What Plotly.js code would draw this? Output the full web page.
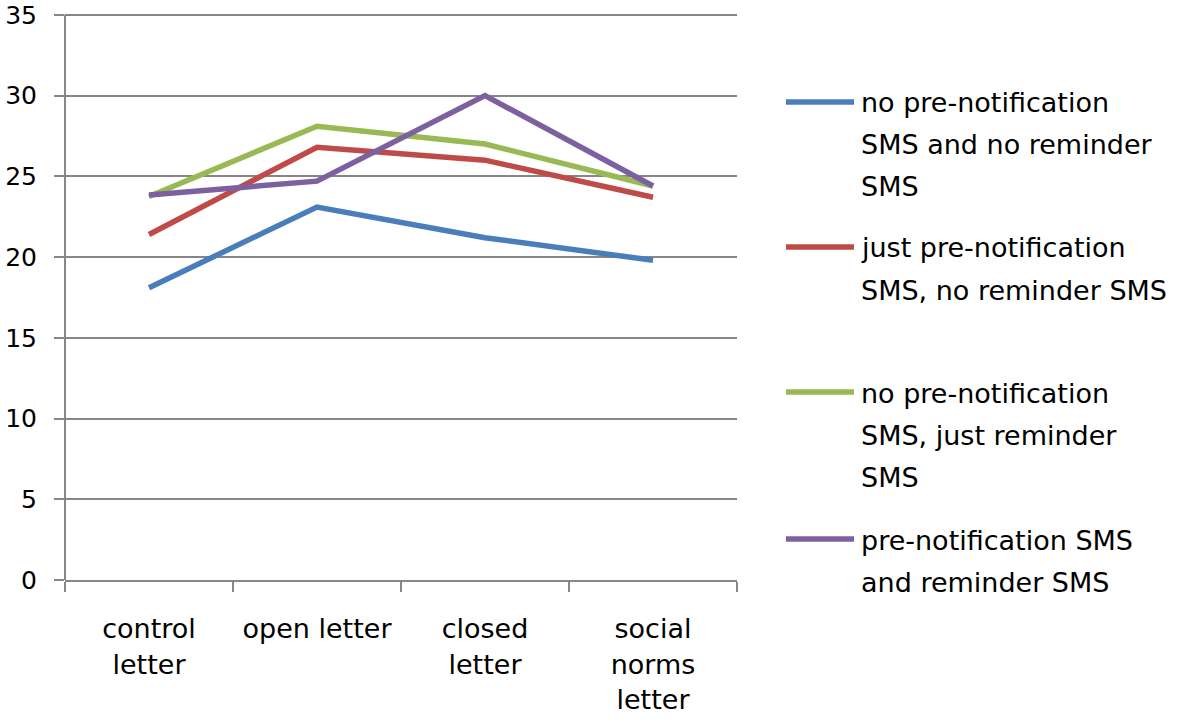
<!DOCTYPE html>
<html>
<head>
<meta charset="utf-8">
<script src="https://cdn.plot.ly/plotly-3.0.1.min.js"></script>
<style>
  html, body { margin: 0; padding: 0; background: #fff; }
  #chart { width: 1181px; height: 722px; }
</style>
</head>
<body>
<div id="chart"></div>
<script>
// categories and tick labels
const categories = ["control letter", "open letter", "closed letter", "social norms letter"];
const tickLabels = ["control<br>letter", "open letter", "closed<br>letter", "social<br>norms<br>letter"];

// series values
const noPreNoReminder = [18.1, 23.1, 21.2, 19.8];
const justPreNotification = [21.4, 26.8, 26.0, 23.7];
const justReminder = [23.75, 28.1, 27.0, 24.4];
const preAndReminder = [23.85, 24.7, 30.0, 24.4];
const yTicks = [0, 5, 10, 15, 20, 25, 30, 35];

const seriesNames = [
  "no pre-notification SMS and no reminder SMS",
  "just pre-notification SMS, no reminder SMS",
  "no pre-notification SMS, just reminder SMS",
  "pre-notification SMS and reminder SMS",
];
// how the legend text wraps in the picture
const legendLines = [
  ["no pre-notification", "SMS and no reminder", "SMS"],
  ["just pre-notification", "SMS, no reminder SMS"],
  ["no pre-notification", "SMS, just reminder", "SMS"],
  ["pre-notification SMS", "and reminder SMS"],
];
const colors = ["#4a7ebb", "#be4b48", "#98b954", "#7d60a0"];

const FONT = "DejaVu Sans, sans-serif";
const FS = 27;
const W = 1181, H = 722;
// top range a bit above 35 so the 35 gridline and label are kept
const margin = { l: 65, r: 444, t: 10, b: 142 };
const plotW = W - margin.l - margin.r;
const plotH = H - margin.t - margin.b;
const px2x = (px) => (px - margin.l) / plotW;
const px2y = (py) => (H - margin.b - py) / plotH;

const allValues = [noPreNoReminder, justPreNotification, justReminder, preAndReminder];

const traces = allValues.map((vals, i) => ({
  x: categories,
  y: vals,
  name: seriesNames[i],
  type: "scatter",
  mode: "lines",
  line: { color: colors[i], width: 5.5 },
  hoverinfo: "x+y+name",
}));

// hand-made legend so the line spacing matches the picture
const legendTop = [102, 247, 392, 539];
const lineGap = 42;
const shapes = [];
const annotations = [];
legendLines.forEach((lines, i) => {
  shapes.push({
    type: "line",
    xref: "paper", yref: "paper",
    x0: px2x(786), x1: px2x(854),
    y0: px2y(legendTop[i]), y1: px2y(legendTop[i]),
    line: { color: colors[i], width: 5.5 },
  });
  lines.forEach((txt, j) => {
    annotations.push({
      text: txt,
      xref: "paper", yref: "paper",
      x: px2x(859), y: px2y(legendTop[i] + 1 + j * lineGap),
      xanchor: "left", yanchor: "middle",
      showarrow: false,
      font: { family: FONT, size: FS, color: "#000" },
    });
  });
});

const layout = {
  width: W,
  height: H,
  margin: margin,
  paper_bgcolor: "#fff",
  plot_bgcolor: "#fff",
  showlegend: false,
  font: { family: FONT, size: FS, color: "#000" },
  xaxis: {
    type: "category",
    range: [-0.5, 3.5],
    tickmode: "array",
    tickvals: categories,
    ticktext: tickLabels,
    tickson: "boundaries",
    ticks: "outside",
    ticklen: 10,
    tickwidth: 2,
    tickcolor: "#868686",
    showline: true,
    linecolor: "#868686",
    linewidth: 2,
    showgrid: false,
    zeroline: false,
    ticklabelstandoff: 24,
    tickfont: { family: FONT, size: FS, color: "#000" },
  },
  yaxis: {
    range: [0, 35.3],
    tickmode: "array",
    tickvals: yTicks,
    ticks: "outside",
    ticklen: 10,
    tickwidth: 2,
    tickcolor: "#868686",
    showline: false,
    showgrid: true,
    gridcolor: "#868686",
    gridwidth: 2,
    zeroline: false,
    ticklabelstandoff: 12,
    ticklabeloverflow: "allow",
    tickfont: { family: FONT, size: 25, color: "#000" },
  },
  shapes: shapes.concat([
    // y axis line, from 0 up to 35 only
    {
      type: "line", xref: "paper", yref: "y",
      x0: 0, x1: 0, y0: 0, y1: 35,
      line: { color: "#868686", width: 2 },
    },
  ]),
  annotations: annotations,
};

Plotly.newPlot("chart", traces, layout, { displayModeBar: false, staticPlot: true });
</script>
</body>
</html>
